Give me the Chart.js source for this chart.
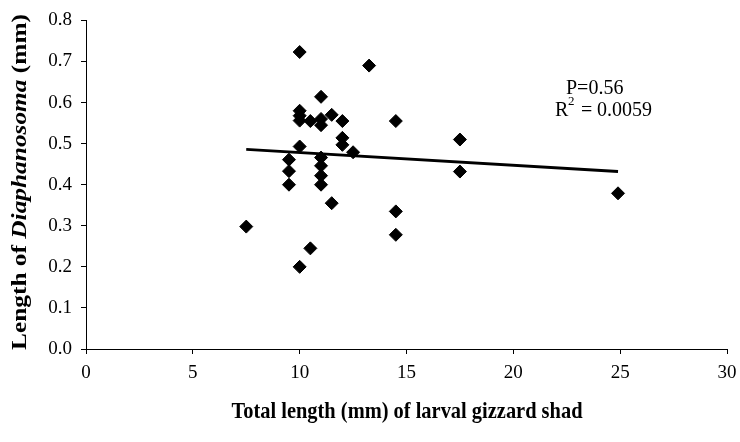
<!DOCTYPE html>
<html>
<head>
<meta charset="utf-8">
<script src="https://cdn.jsdelivr.net/npm/chart.js@4.4.0/dist/chart.umd.min.js"></script>
<style>
  html, body { margin: 0; padding: 0; background: #fff; }
  #wrap { width: 740px; height: 442px; }
</style>
</head>
<body>
<div id="wrap"><canvas id="chart" width="740" height="442"></canvas></div>
<script>
// fish total length (mm) and prey length (mm)
const fishLength = [7.5, 9.5, 9.5, 9.5, 10, 10, 10, 10, 10, 10, 10.5, 10.5,
  11, 11, 11, 11, 11, 11, 11, 11.5, 11.5, 12, 12, 12, 12.5, 13.25,
  14.5, 14.5, 14.5, 17.5, 17.5, 24.9];
const preyLength = [0.298, 0.461, 0.433, 0.400, 0.723, 0.580, 0.568, 0.556, 0.493, 0.200, 0.555, 0.245,
  0.614, 0.560, 0.545, 0.466, 0.446, 0.422, 0.400, 0.570, 0.355, 0.555, 0.514, 0.497, 0.479, 0.690,
  0.555, 0.335, 0.278, 0.510, 0.432, 0.379];

// linear trend line ends
const trendX = [7.5, 24.9];
const trendY = [0.486, 0.432];

const xMin = 0, xMax = 30, xStep = 5;
const yMin = 0, yMax = 0.8, yStep = 0.1;

const xTitle = 'Total length (mm) of larval gizzard shad';
const pText = 'P=0.56';
const r2Value = '0.0059';

const serif = '"Liberation Serif", "Times New Roman", serif';

const points = fishLength.map((x, i) => ({ x: x, y: preyLength[i] }));
const trend = trendX.map((x, i) => ({ x: x, y: trendY[i] }));

// axis titles (italic genus name) + stats text
const extraText = {
  id: 'extraText',
  afterDraw(chart) {
    const ctx = chart.ctx;

    // y title, a bit stretched along its length like the original
    ctx.save();
    ctx.fillStyle = '#000';
    ctx.textBaseline = 'middle';
    const parts = [
      { t: 'Length of ', f: 'bold 21px ' + serif },
      { t: 'Diaphanosoma', f: 'italic bold 21px ' + serif },
      { t: ' (mm)', f: 'bold 21px ' + serif }
    ];
    let total = 0;
    parts.forEach(p => { ctx.font = p.f; p.w = ctx.measureText(p.t).width; total += p.w; });
    ctx.translate(21, 182);
    ctx.rotate(-Math.PI / 2);
    ctx.scale(336 / total, 1);
    let cx = -total / 2;
    ctx.textAlign = 'left';
    parts.forEach(p => { ctx.font = p.f; ctx.fillText(p.t, cx, 0); cx += p.w; });
    ctx.restore();

    // x title
    ctx.save();
    ctx.fillStyle = '#000';
    ctx.textAlign = 'center';
    ctx.textBaseline = 'middle';
    ctx.font = 'bold 20px ' + serif;
    ctx.translate(407, 412);
    ctx.scale(351 / ctx.measureText(xTitle).width, 1.2);
    ctx.fillText(xTitle, 0, 0);
    ctx.restore();

    // stats
    ctx.save();
    ctx.fillStyle = '#000';
    ctx.textBaseline = 'alphabetic';
    ctx.textAlign = 'left';
    ctx.font = '20px ' + serif;
    ctx.fillText(pText, 566, 94);
    ctx.fillText('R', 555, 116);
    ctx.font = '13px ' + serif;
    ctx.fillText('2', 568, 105);
    ctx.font = '20px ' + serif;
    ctx.fillText('=', 581, 116);
    ctx.fillText(r2Value, 597, 116);
    ctx.restore();
  }
};

new Chart(document.getElementById('chart'), {
  type: 'scatter',
  data: {
    datasets: [
      {
        label: 'trend',
        type: 'line',
        data: trend,
        borderColor: '#000',
        borderWidth: 3,
        pointRadius: 0,
        fill: false,
        order: 2
      },
      {
        label: 'Diaphanosoma',
        data: points,
        pointStyle: 'rectRot',
        pointRadius: 6.5,
        pointBackgroundColor: '#000',
        pointBorderColor: '#000',
        pointBorderWidth: 1,
        order: 1
      }
    ]
  },
  options: {
    responsive: false,
    animation: false,
    layout: { padding: { left: 0, right: 13, top: 14, bottom: 0 } },
    plugins: {
      legend: { display: false },
      tooltip: { enabled: false }
    },
    scales: {
      x: {
        type: 'linear',
        min: xMin,
        max: xMax,
        afterFit: s => { s.height = 93; s.paddingLeft = 0; s.paddingRight = 0; },
        ticks: {
          stepSize: xStep,
          color: '#000',
          padding: 8,
          font: { family: serif, size: 19 }
        },
        grid: { drawOnChartArea: false, color: '#000', tickLength: 5 },
        border: { color: '#000', width: 1 }
      },
      y: {
        type: 'linear',
        min: yMin,
        max: yMax,
        afterFit: s => { s.width = 86; },
        ticks: {
          stepSize: yStep,
          color: '#000',
          padding: 9,
          font: { family: serif, size: 19 },
          callback: v => v.toFixed(1)
        },
        grid: { drawOnChartArea: false, color: '#000', tickLength: 5 },
        border: { color: '#000', width: 1 }
      }
    }
  },
  plugins: [extraText]
});
</script>
</body>
</html>
